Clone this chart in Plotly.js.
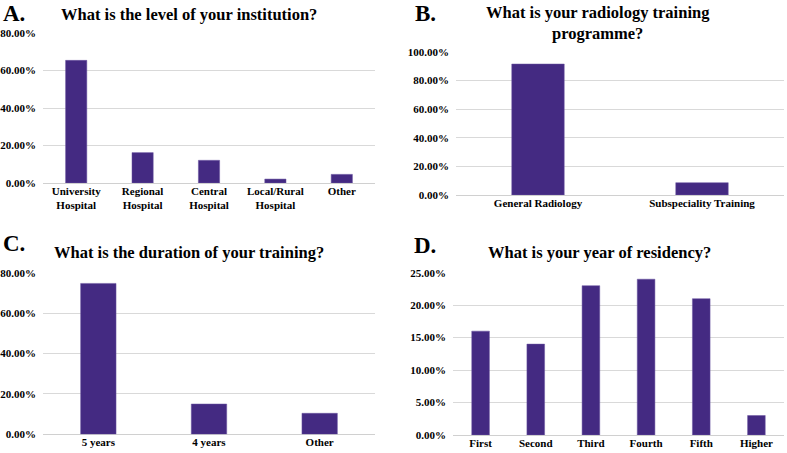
<!DOCTYPE html>
<html>
<head>
<meta charset="utf-8">
<script src="https://cdn.plot.ly/plotly-3.0.1.min.js"></script>
<style>html,body{margin:0;padding:0;background:#fff}#chart{width:787px;height:453px}</style>
</head>
<body>
<div id="chart"></div>
<script>
// Panel A
const catsA = ["University<br>Hospital", "Regional<br>Hospital", "Central<br>Hospital", "Local/Rural<br>Hospital", "Other"];
const valsA = [65.4, 16.2, 12.1, 2.1, 4.6];
// Panel B
const catsB = ["General Radiology", "Subspeciality Training"];
const valsB = [91.4, 8.6];
// Panel C
const catsC = ["5 years", "4 years", "Other"];
const valsC = [74.7, 15.0, 10.4];
// Panel D
const catsD = ["First", "Second", "Third", "Fourth", "Fifth", "Higher"];
const valsD = [16, 14, 23, 24, 21, 3];

const titles = ["What is the level of your institution?",
  "What is your radiology training<br>programme?",
  "What is the duration of your training?",
  "What is your year of residency?"];
const letters = ["A.", "B.", "C.", "D."];

const barColor = "#442a82";
const serif = "Liberation Serif";
const tickFont = {family: serif, size: 11, color: "#000", weight: "bold"};

function bar(x, y, xa, ya) {
  return {type: "bar", x: x, y: y, xaxis: xa, yaxis: ya,
    marker: {color: barColor, line: {color: "#6a55a0", width: 0.5}},
    hoverinfo: "x+y", showlegend: false};
}
const data = [
  bar(catsA, valsA, "x", "y"),
  bar(catsB, valsB, "x2", "y2"),
  bar(catsC, valsC, "x3", "y3"),
  bar(catsD, valsD, "x4", "y4")
];

function xax(domain, anchor) {
  return {domain: domain, anchor: anchor, type: "category", showgrid: false,
    showline: false, zeroline: false, ticks: "", tickfont: tickFont, fixedrange: true};
}
function yax(domain, anchor, max, dtick) {
  return {domain: domain, anchor: anchor, range: [0, max], dtick: dtick, tick0: 0,
    ticksuffix: "%", tickformat: ".2f", showgrid: true, gridcolor: "#d9d9d9", gridwidth: 1,
    zeroline: true, zerolinecolor: "#d0d0d0", zerolinewidth: 1, showline: false,
    ticks: "", ticklabelstandoff: 6, tickfont: tickFont, fixedrange: true};
}

const annotations = [];
const titlePos = [[189, 14], [598, 23], [189, 253], [599, 253]];
const letterPos = [[14, 0], [425, 0], [14, 230], [425, 232]];
for (let i = 0; i < 4; i++) {
  annotations.push({text: titles[i], xref: "paper", yref: "paper",
    x: titlePos[i][0] / 787, y: 1 - titlePos[i][1] / 453, xanchor: "center", yanchor: "middle",
    showarrow: false, font: {family: serif, size: 16.5, color: "#000", weight: "bold"}});
  annotations.push({text: letters[i], xref: "paper", yref: "paper",
    x: letterPos[i][0] / 787, y: 1 - letterPos[i][1] / 453, xanchor: "center", yanchor: "top",
    showarrow: false, borderpad: 0, font: {family: serif, size: 23, color: "#000", weight: "bold"}});
}

const layout = {
  width: 787, height: 453,
  margin: {l: 0, r: 0, t: 0, b: 0},
  paper_bgcolor: "#fff", plot_bgcolor: "#fff",
  bargap: 0.68,
  showlegend: false,
  font: {family: serif},
  xaxis: xax([43/787, 375/787], "y"),
  yaxis: yax([270/453, 420/453], "x", 80, 20),
  xaxis2: xax([456/787, 784/787], "y2"),
  yaxis2: yax([258/453, 401.3/453], "x2", 100, 20),
  xaxis3: xax([43/787, 375/787], "y3"),
  yaxis3: yax([18.7/453, 180.3/453], "x3", 80, 20),
  xaxis4: xax([453/787, 784/787], "y4"),
  yaxis4: yax([18/453, 180.3/453], "x4", 25, 5),
  annotations: annotations
};

Plotly.newPlot("chart", data, layout, {displayModeBar: false, staticPlot: true});
</script>
</body>
</html>
